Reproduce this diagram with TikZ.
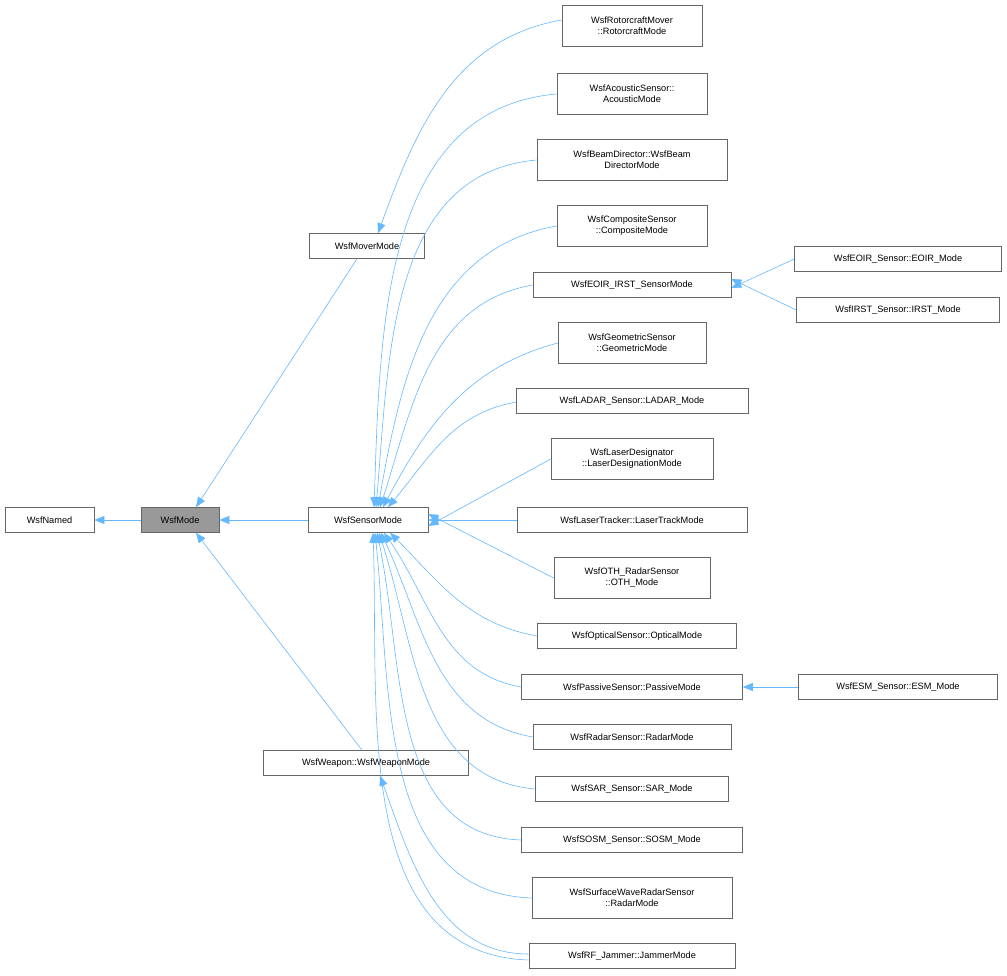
\documentclass[tikz,border=0pt]{standalone}
\usepackage{fontspec}
\setmainfont{Liberation Sans}
\usetikzlibrary{arrows.meta}
\definecolor{edgec}{HTML}{63B8FF}
\definecolor{boxc}{HTML}{666666}
\begin{document}
\begin{tikzpicture}[x=1pt,y=-1pt,
  box/.style={draw=boxc,fill=white,line width=0.6pt,font=\fontsize{9.2}{11}\selectfont,align=center,inner sep=0pt,minimum height=25pt},
  box2/.style={box,minimum height=41pt},
  edge/.style={draw=edgec,line width=0.6pt,-{Triangle[length=10pt,width=8pt,fill=edgec]}},
  shorten >=0pt]
\useasboundingbox (0,0) rectangle (1007,976);
\node[box,minimum width=89pt] (named) at (49.5,520) {WsfNamed};
\node[box,minimum width=78pt,fill=black!40] (mode) at (180,520) {WsfMode};
\node[box,minimum width=115pt] (mover) at (367,246) {WsfMoverMode};
\node[box,minimum width=120pt] (sensor) at (368,520) {WsfSensorMode};
\node[box,minimum width=205pt] (weapon) at (366,763) {WsfWeapon::WsfWeaponMode};
\node[box2,minimum width=140pt] (rotor) at (632,26) {WsfRotorcraftMover\\::RotorcraftMode};
\node[box2,minimum width=150pt] (acoustic) at (632,94) {WsfAcousticSensor::\\AcousticMode};
\node[box2,minimum width=190pt] (beam) at (632,160) {WsfBeamDirector::WsfBeam\\DirectorMode};
\node[box2,minimum width=150pt] (comp) at (632,226) {WsfCompositeSensor\\::CompositeMode};
\node[box,minimum width=198pt] (eoirirst) at (632,285) {WsfEOIR\_IRST\_SensorMode};
\node[box2,minimum width=148pt] (geo) at (632,343) {WsfGeometricSensor\\::GeometricMode};
\node[box,minimum width=232pt] (ladar) at (632,401) {WsfLADAR\_Sensor::LADAR\_Mode};
\node[box2,minimum width=162pt] (ldes) at (632,459) {WsfLaserDesignator\\::LaserDesignationMode};
\node[box,minimum width=230pt] (ltrack) at (632,520) {WsfLaserTracker::LaserTrackMode};
\node[box2,minimum width=156pt] (oth) at (632,578) {WsfOTH\_RadarSensor\\::OTH\_Mode};
\node[box,minimum width=199pt] (optical) at (637,636) {WsfOpticalSensor::OpticalMode};
\node[box,minimum width=221pt] (passive) at (632,687) {WsfPassiveSensor::PassiveMode};
\node[box,minimum width=198pt] (radar) at (632,737) {WsfRadarSensor::RadarMode};
\node[box,minimum width=193pt] (sar) at (632,789) {WsfSAR\_Sensor::SAR\_Mode};
\node[box,minimum width=221pt] (sosm) at (632,840) {WsfSOSM\_Sensor::SOSM\_Mode};
\node[box2,minimum width=200pt] (surf) at (632,898) {WsfSurfaceWaveRadarSensor\\::RadarMode};
\node[box,minimum width=206pt] (jam) at (632,956) {WsfRF\_Jammer::JammerMode};
\node[box,minimum width=207pt] (eoir) at (898,259) {WsfEOIR\_Sensor::EOIR\_Mode};
\node[box,minimum width=203pt] (irst) at (898,310) {WsfIRST\_Sensor::IRST\_Mode};
\node[box,minimum width=199pt] (esm) at (898,687) {WsfESM\_Sensor::ESM\_Mode};

\draw[edge] (mode) -- (named);
\draw[edge] (sensor) -- (mode);
\draw[edge] ([xshift=-10pt]mover.south) -- ([xshift=16pt]mode.north);
\draw[edge] ([xshift=-4pt]weapon.north) -- ([xshift=16pt]mode.south);
\draw[edge] ([yshift=6pt]rotor.west) to[out=190,in=70] ([xshift=11pt]mover.north);
\draw[edge] ([yshift=2pt]jam.west) to[out=180,in=-70] ([xshift=14pt]weapon.south);
\draw[edge] (eoir.west) -- ([yshift=-3pt]eoirirst.east);
\draw[edge] (irst.west) -- ([yshift=6pt]eoirirst.east);
\draw[edge] (esm) -- (passive);
% upper children
\draw[edge] (acoustic.west) to[out=185,in=88] ([xshift=6pt]sensor.north);
\draw[edge] (beam.west) to[out=185,in=85] ([xshift=8pt]sensor.north);
\draw[edge] (comp.west) to[out=190,in=80] ([xshift=10pt]sensor.north);
\draw[edge] (eoirirst.west) to[out=190,in=72] ([xshift=12pt]sensor.north);
\draw[edge] (geo.west) to[out=195,in=62] ([xshift=15pt]sensor.north);
\draw[edge] (ladar.north west) ++(0,14) to[out=190,in=50] ([xshift=20pt]sensor.north);
\draw[edge] (ldes.west) -- ([yshift=-6pt]sensor.east);
\draw[edge] (ltrack) -- (sensor);
\draw[edge] (oth.west) -- ([yshift=6pt]sensor.east);
% lower children
\draw[edge] (optical.west) to[out=170,in=-45] ([xshift=22pt]sensor.south);
\draw[edge] (passive.west) to[out=170,in=-55] ([xshift=16pt]sensor.south);
\draw[edge] (radar.west) to[out=170,in=-65] ([xshift=13pt]sensor.south);
\draw[edge] (sar.west) to[out=175,in=-72] ([xshift=11pt]sensor.south);
\draw[edge] (sosm.west) to[out=178,in=-78] ([xshift=9pt]sensor.south);
\draw[edge] (surf.west) to[out=178,in=-84] ([xshift=7pt]sensor.south);
\draw[edge] ([yshift=-4pt]jam.west) to[out=178,in=-88] ([xshift=5pt]sensor.south);
\end{tikzpicture}
\end{document}
